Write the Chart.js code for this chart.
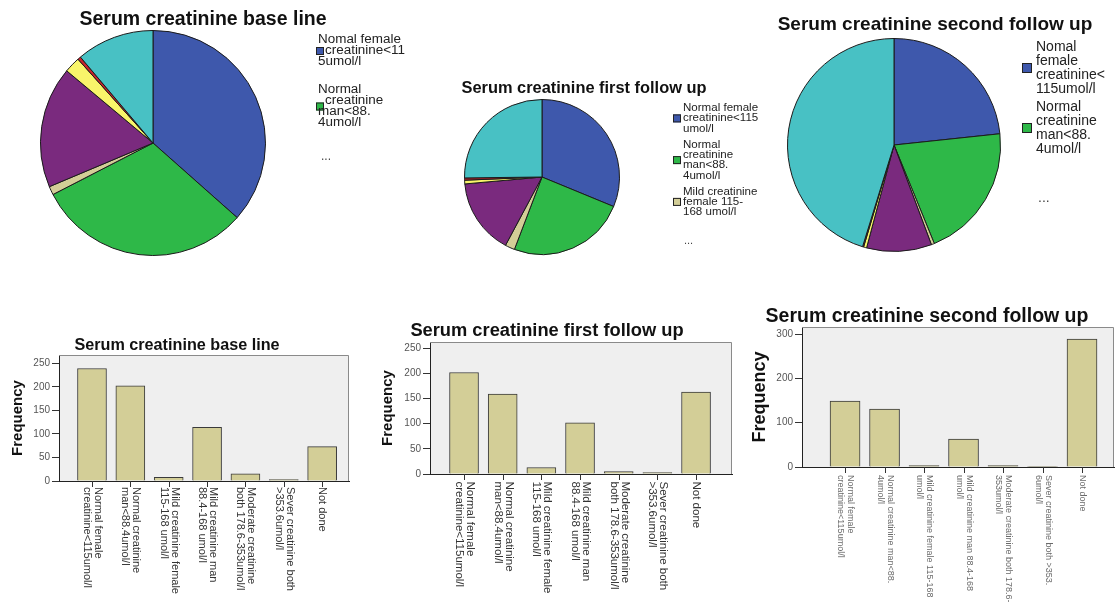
<!DOCTYPE html>
<html>
<head>
<meta charset="utf-8">
<title>Serum creatinine</title>
<script src="https://cdn.jsdelivr.net/npm/chart.js@4.4.0/dist/chart.umd.min.js"></script>
<style>
  body { margin: 0; background: #fff; }
  #wrap { position: relative; width: 1116px; height: 607px; overflow: hidden; }
  #wrap canvas { position: absolute; left: 0; top: 0; }
</style>
</head>
<body>
<div id="wrap">
  <canvas id="pieBase" width="1116" height="607"></canvas>
  <canvas id="pieFirst" width="1116" height="607"></canvas>
  <canvas id="pieSecond" width="1116" height="607"></canvas>
  <canvas id="barBase" width="1116" height="607"></canvas>
  <canvas id="barFirst" width="1116" height="607"></canvas>
  <canvas id="barSecond" width="1116" height="607"></canvas>
</div>
<script>
Chart.defaults.font.family = '"Liberation Sans", Arial, sans-serif';

var categories = ['Normal female creatinine<115umol/l', 'Normal creatinine man<88.4umol/l',
    'Mild creatinine female 115-168 umol/l', 'Mild creatinine man 88.4-168 umol/l',
    'Moderate creatinine both 178.6-353umol/l', 'Sever creatinine both >353.6umol/l', 'Not done'];

// frequencies per visit
var baseLine = [239, 202, 8, 114, 15, 3, 73];
var firstFollowUp = [202, 159, 13, 102, 5, 3, 163];
var secondFollowUp = [149, 131, 3, 63, 3, 1, 289];

var sliceColors = ['#3E58AC', '#2EB848', '#D3CE97', '#7A2A7E', '#F9F56A', '#C8232B', '#48C1C4'];
var barColor = '#D3CE97';

// wrapped category names under the bars
var baseTicks = [['Normal female', 'creatinine<115umol/l'], ['Normal creatinine', 'man<88.4umol/l'],
    ['Mild creatinine female', '115-168 umol/l'], ['Mild creatinine man', '88.4-168 umol/l'],
    ['Moderate creatinine', 'both 178.6-353umol/l'], ['Sever creatinine both', '>353.6umol/l'], ['Not done']];
var firstTicks = [['Normal female', 'creatinine<115umol/l'], ['Normal creatinine', 'man<88.4umol/l'],
    ['Mild creatinine female', '115-168 umol/l'], ['Mild creatinine man', '88.4-168 umol/l'],
    ['Moderate creatinine', 'both 178.6-353umol/l'], ['Sever creatinine both', '>353.6umol/l'], ['Not done']];
var secondTicks = [['Normal female', 'creatinine<115umol/l'], ['Normal creatinine man<88.', '4umol/l'],
    ['Mild creatinine female 115-168', 'umol/l'], ['Mild creatinine man 88.4-168', 'umol/l'],
    ['Moderate creatinine both 178.6-', '353umol/l'], ['Sever creatinine both >353.', '6umol/l'], ['Not done']];

// pie legends, cut short like the SPSS output
var baseLegend = [['Nomal female', 'creatinine<11', '5umol/l'], ['Normal', 'creatinine', 'man<88.', '4umol/l']];
var firstLegend = [['Normal female', 'creatinine<115', 'umol/l'], ['Normal', 'creatinine', 'man<88.', '4umol/l'],
    ['Mild creatinine', 'female 115-', '168 umol/l']];
var secondLegend = [['Nomal', 'female', 'creatinine<', '115umol/l'], ['Normal', 'creatinine', 'man<88.', '4umol/l']];

var FONT = '"Liberation Sans", Arial, sans-serif';

// titles, legends, plot frame and rotated category labels
var panelText = {
    id: 'panelText',
    beforeDraw: function(chart, args, o) {
        if (!o.frame) return;
        var a = chart.chartArea, ctx = chart.ctx;
        ctx.save();
        ctx.fillStyle = '#EFEFEF';
        ctx.fillRect(a.left, a.top, a.right - a.left, a.bottom - a.top);
        ctx.restore();
    },
    afterDraw: function(chart, args, o) {
        var ctx = chart.ctx;
        ctx.save();
        if (o.frame) {
            var a = chart.chartArea;
            ctx.strokeStyle = '#8a8a8a';
            ctx.lineWidth = 1;
            ctx.beginPath();
            ctx.moveTo(a.left, a.top + 0.5);
            ctx.lineTo(a.right - 0.5, a.top + 0.5);
            ctx.lineTo(a.right - 0.5, a.bottom);
            ctx.stroke();
        }
        ctx.fillStyle = '#111';
        ctx.font = 'bold ' + o.titleSize + 'px ' + FONT;
        ctx.textAlign = 'center';
        ctx.textBaseline = 'alphabetic';
        ctx.fillText(o.title, o.titleX, o.titleY);

        if (o.legend) {
            var lg = o.legend;
            ctx.font = lg.size + 'px ' + FONT;
            ctx.textAlign = 'left';
            ctx.textBaseline = 'middle';
            lg.items.forEach(function(lines, i) {
                var y0 = lg.y[i];
                var boxY = y0 + (lines.length - 1) / 2 * lg.lh;
                ctx.fillStyle = sliceColors[i];
                ctx.fillRect(lg.boxX, boxY - lg.box / 2, lg.box, lg.box);
                ctx.strokeStyle = '#222';
                ctx.strokeRect(lg.boxX + 0.5, boxY - lg.box / 2 + 0.5, lg.box - 1, lg.box - 1);
                ctx.fillStyle = '#222';
                lines.forEach(function(t, k) {
                    var x = (k === 1) ? lg.boxTextX : lg.textX;
                    ctx.save();
                    ctx.translate(x, y0 + k * lg.lh);
                    ctx.scale(lg.stretch, 1);
                    ctx.fillText(t, 0, 0);
                    ctx.restore();
                });
            });
            ctx.fillStyle = '#444';
            ctx.fillText('...', lg.dotsX, lg.dotsY);
        }

        if (o.ticks) {
            var xs = chart.scales.x;
            var bottom = chart.chartArea.bottom;
            var yTop = bottom + o.tickGap;
            ctx.font = o.tickSize + 'px ' + FONT;
            ctx.textAlign = 'left';
            ctx.textBaseline = 'middle';
            o.ticks.forEach(function(lines, i) {
                var x = Math.round(xs.getPixelForValue(i)) + 0.5;
                // tick mark under each bar
                ctx.strokeStyle = '#333';
                ctx.lineWidth = 1;
                ctx.beginPath();
                ctx.moveTo(x, bottom);
                ctx.lineTo(x, bottom + 6);
                ctx.stroke();
                ctx.save();
                ctx.fillStyle = o.tickColor;
                ctx.translate(x, yTop);
                ctx.rotate(Math.PI / 2);
                lines.forEach(function(t, k) {
                    ctx.fillText(t, 0, (k - (lines.length - 1) / 2) * o.tickLh);
                });
                ctx.restore();
            });
        }
        ctx.restore();
    }
};

function pieChart(id, values, area, text) {
    return new Chart(document.getElementById(id), {
        type: 'pie',
        data: {
            labels: categories,
            datasets: [{ data: values, backgroundColor: sliceColors, borderColor: '#1b1b1b', borderWidth: 1 }]
        },
        options: {
            responsive: false,
            animation: false,
            layout: { padding: { left: area[0], top: area[1], right: 1116 - area[2], bottom: 607 - area[3] } },
            plugins: { legend: { display: false }, tooltip: { enabled: false }, panelText: text }
        },
        plugins: [panelText]
    });
}

function barChart(id, values, cfg, text) {
    return new Chart(document.getElementById(id), {
        type: 'bar',
        data: {
            labels: categories,
            datasets: [{
                data: values.map(function(v, i) { return { x: i, y: v }; }),
                backgroundColor: barColor,
                borderColor: '#3a3a3a',
                borderWidth: 1,
                barThickness: cfg.barWidth
            }]
        },
        options: {
            responsive: false,
            animation: false,
            layout: { padding: { left: cfg.left - cfg.axisWidth, top: cfg.top, right: 1116 - cfg.right, bottom: 607 - cfg.bottom - 8 } },
            scales: {
                x: {
                    type: 'linear',
                    offset: false,
                    min: cfg.xMin,
                    max: cfg.xMax,
                    ticks: { display: false, stepSize: 1, includeBounds: false },
                    grid: { display: false },
                    border: { display: true, color: '#222' },
                    afterFit: function(s) { s.height = 8; }
                },
                y: {
                    min: 0,
                    max: cfg.yMax,
                    ticks: { stepSize: cfg.step, includeBounds: false, color: '#555', font: { size: 10 }, padding: 2 },
                    grid: { drawOnChartArea: false, tickLength: 7, color: '#333' },
                    border: { color: '#222' },
                    title: {
                        display: true, text: 'Frequency', color: '#111',
                        font: { size: cfg.freqSize, weight: 'bold' },
                        padding: { top: cfg.freqPad, bottom: 0 }
                    },
                    afterFit: function(s) { s.width = cfg.axisWidth; }
                }
            },
            plugins: { legend: { display: false }, tooltip: { enabled: false }, panelText: text }
        },
        plugins: [panelText]
    });
}

// pies
pieChart('pieBase', baseLine, [40, 30, 266, 256], {
    title: 'Serum creatinine base line', titleSize: 19.5, titleX: 203, titleY: 25,
    legend: { items: baseLegend, y: [40, 90], lh: 11, size: 12, stretch: 1.12, boxX: 316, box: 8,
        textX: 318, boxTextX: 325, dotsX: 321, dotsY: 157 }
});
pieChart('pieFirst', firstFollowUp, [464, 99, 620, 255], {
    title: 'Serum creatinine first follow up', titleSize: 16.4, titleX: 584, titleY: 93,
    legend: { items: firstLegend, y: [108, 144.5, 191.5], lh: 10.4, size: 11, stretch: 1.05, boxX: 673, box: 8,
        textX: 683, boxTextX: 683, dotsX: 684, dotsY: 241 }
});
pieChart('pieSecond', secondFollowUp, [787, 38, 1001, 252], {
    title: 'Serum creatinine second follow up', titleSize: 19, titleX: 935, titleY: 30,
    legend: { items: secondLegend, y: [47, 107], lh: 14, size: 14, stretch: 1, boxX: 1022, box: 10,
        textX: 1036, boxTextX: 1036, dotsX: 1038, dotsY: 198 }
});

// bars
barChart('barBase', baseLine,
    { left: 59, right: 349, top: 355, bottom: 481, axisWidth: 59, xMin: -0.86, xMax: 6.7,
      yMax: 267.6, step: 50, barWidth: 29, freqSize: 15, freqPad: 9 },
    { frame: true, title: 'Serum creatinine base line', titleSize: 16.2, titleX: 177, titleY: 350,
      ticks: baseTicks, tickSize: 11, tickLh: 11, tickGap: 6, tickColor: '#333' });
barChart('barFirst', firstFollowUp,
    { left: 430, right: 732, top: 342, bottom: 474, axisWidth: 60, xMin: -0.88, xMax: 6.93,
      yMax: 262.6, step: 50, barWidth: 29, freqSize: 15, freqPad: 9 },
    { frame: true, title: 'Serum creatinine first follow up', titleSize: 18.3, titleX: 547, titleY: 336,
      ticks: firstTicks, tickSize: 11.5, tickLh: 10.5, tickGap: 7.5, tickColor: '#333' });
barChart('barSecond', secondFollowUp,
    { left: 802, right: 1114, top: 327, bottom: 467, axisWidth: 60, xMin: -1.09, xMax: 6.81,
      yMax: 316, step: 100, barWidth: 30, freqSize: 18, freqPad: 7 },
    { frame: true, title: 'Serum creatinine second follow up', titleSize: 19.5, titleX: 927, titleY: 321.7,
      ticks: secondTicks, tickSize: 9, tickLh: 10, tickGap: 8, tickColor: '#6a6a6a' });
</script>
</body>
</html>
